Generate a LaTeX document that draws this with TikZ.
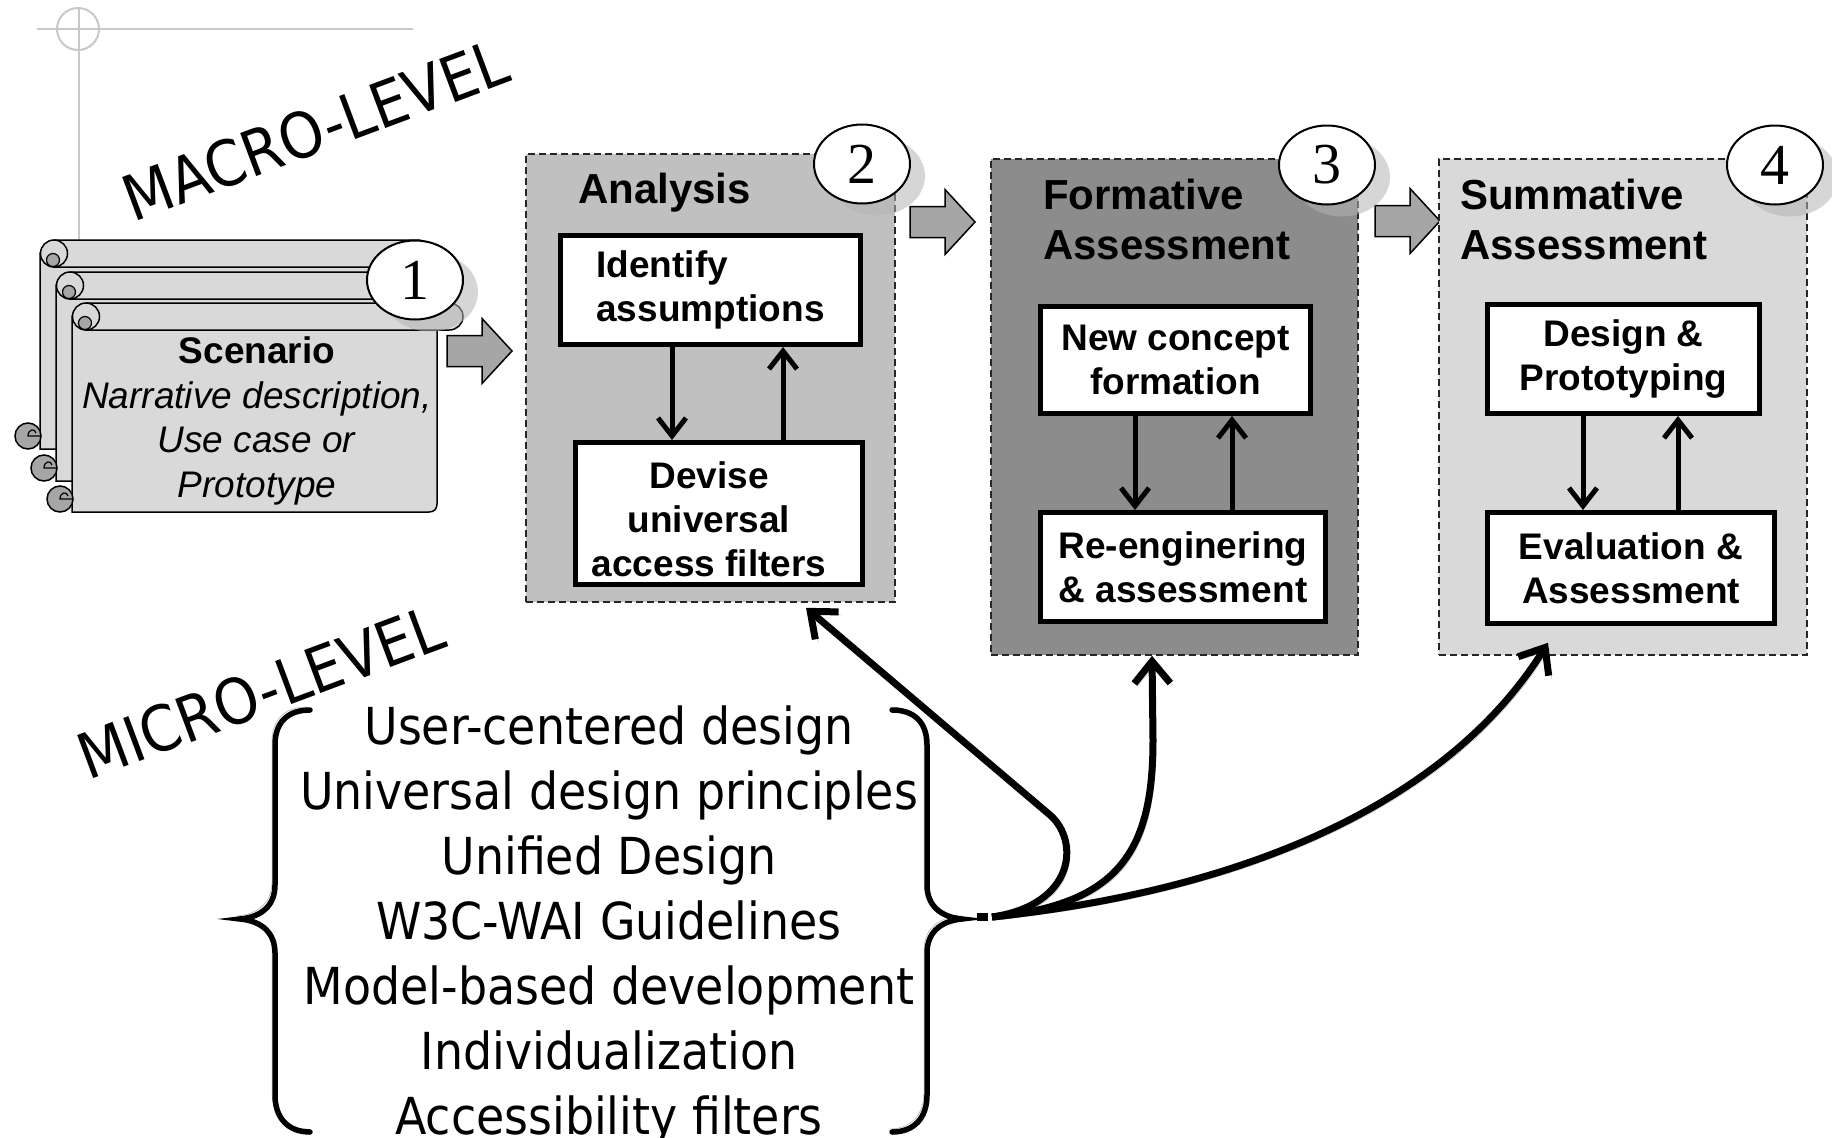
\documentclass[tikz,border=0pt]{standalone}
\usepackage{fontspec}
\setmainfont{Liberation Sans}
\newfontfamily\numfont{Liberation Serif}
\newfontfamily\narrowfont[FakeStretch=0.9]{DejaVu Sans}
\usetikzlibrary{arrows.meta,shapes.geometric,shadows}

\definecolor{scrollfill}{HTML}{D9D9D9}
\definecolor{curlfill}{HTML}{A6A6A6}
\definecolor{blockfill}{HTML}{A6A6A6}
\definecolor{anafill}{HTML}{C0C0C0}
\definecolor{formfill}{HTML}{8C8C8C}
\definecolor{summfill}{HTML}{D9D9D9}
\definecolor{markgray}{HTML}{C8C8C8}
\definecolor{shadowgray}{HTML}{B4B4B4}

\tikzset{
  % one sheet of the scenario scroll, origin at its top-left corner
  scrollsheet/.pic={
    \draw[line width=1.5pt, fill=scrollfill]
      (0,13) -- (0,209) -- (357,209) .. controls (362,209) and (365,206) .. (365,201)
      -- (365,13) -- cycle;
    \draw[line width=1.5pt, fill=curlfill] (-12,196) circle[radius=13];
    \draw[line width=1.2pt] (0,196) -- (-12,196) .. controls (-12,189) and (-5,188) .. (-4,193);
    \draw[line width=1.5pt, fill=scrollfill]
      (14,0) -- (377,0) .. controls (385,0) and (391,6) .. (391,13.5)
      .. controls (391,21) and (385,27) .. (377,27) -- (14,27) -- cycle;
    \draw[line width=1.5pt, fill=scrollfill] (14,13.5) circle[radius=13.5];
    \draw[line width=1.2pt, fill=curlfill] (13,20) circle[radius=6.5];
  },
  % wide grey arrow between stages, origin at the middle of its tail
  blockarrow/.pic={
    \draw[line width=1.5pt, fill=blockfill]
      (0,-15.5) -- (35,-15.5) -- (35,-32.5) -- (65,0) -- (35,32.5) -- (35,15.5) -- (0,15.5) -- cycle;
  },
  phasebox/.style={draw=black!85, line width=1.6pt, dash pattern=on 7pt off 4pt, inner sep=0pt},
  heading/.style={font=\bfseries\fontsize{42}{50}\selectfont, inner sep=0pt, align=left},
  stepbox/.style={draw, line width=5pt, fill=white, inner sep=0pt, align=center,
    font=\bfseries\fontsize{37}{44}\selectfont},
  badge/.style={ellipse, draw, line width=2pt, fill=white, minimum width=96pt,
    minimum height=79pt, inner sep=0pt, font=\numfont\fontsize{58}{58}\selectfont,
    drop shadow={shadow xshift=15pt, shadow yshift=-12pt, fill=shadowgray, opacity=0.55}},
  cyclearrow/.style={line width=5pt, -{Straight Barb[length=18pt,width=28pt]}},
  microlink/.style={line width=7pt, -{Straight Barb[length=22pt,width=36pt]},
    preaction={draw=shadowgray, transform canvas={xshift=3pt,yshift=-3pt}}},
  bracepath/.style={line width=5.5pt, line cap=round,
    preaction={draw=gray!80, transform canvas={xshift=-3pt,yshift=3pt}}},
  tilted/.style={font=\narrowfont\fontsize{63}{63}\selectfont, rotate=20.5,
    anchor=base west, inner sep=0pt},
}

\begin{document}
\begin{tikzpicture}[x=1pt,y=-1pt]
\useasboundingbox (0,0) rectangle (1832,1138);

% registration mark
\draw[markgray, line width=2pt] (37,29) -- (413,29);
\draw[markgray, line width=2pt] (79,8) -- (79,245);
\draw[markgray, line width=2pt] (78,29) circle[radius=21];

% scenario scroll stack
\pic at (40,240) {scrollsheet};
\pic at (56,272) {scrollsheet};
\pic at (72,303) {scrollsheet};
\node[align=center, font=\fontsize{37}{44.5}\selectfont, inner sep=0pt] (scen) at (257,421)
  {\textbf{Scenario}\\\textit{Narrative description,}\\\textit{Use case or}\\\textit{Prototype}};
\node[badge] (n1) at (415,280) {1};

\node[tilted] (macro) at (133,223) {MACRO-LEVEL};

% stage-to-stage arrows
\pic at (447,351) {blockarrow};
\pic at (910,222) {blockarrow};
\pic at (1375,221) {blockarrow};

% stage frames
\node[phasebox, fill=anafill, minimum width=369pt, minimum height=448pt] (analysis) at (710.5,378) {};
\node[phasebox, fill=formfill, minimum width=367pt, minimum height=496pt] (formative) at (1174.5,407) {};
\node[phasebox, fill=summfill, minimum width=368pt, minimum height=496pt] (summative) at (1623,407) {};

\node[heading, anchor=base west] (anaT) at (578,203) {Analysis};
\node[heading, anchor=north west] (formT) at (1043,178.5) {Formative\\Assessment};
\node[heading, anchor=north west] (summT) at (1460,178.5) {Summative\\Assessment};

% activities inside the stages
\node[stepbox, align=left, minimum width=300pt, minimum height=109pt] (ident) at (710.5,290) {Identify\\assumptions};
\node[stepbox, minimum width=287pt, minimum height=142pt,
  label={[inner sep=0pt, align=center, yshift=-6pt, xshift=-10pt, font=\bfseries\fontsize{37}{44}\selectfont]center:Devise\\universal\\access filters}]
  (devise) at (719,513.5) {};
\node[stepbox, minimum width=270pt, minimum height=107pt] (newc) at (1175.5,360) {New concept\\formation};
\node[stepbox, minimum width=285pt, minimum height=109pt] (reeng) at (1183,567) {Re-enginering\\\& assessment};
\node[stepbox, minimum width=272pt, minimum height=109pt] (design) at (1623.5,359) {Design \&\\Prototyping};
\node[stepbox, minimum width=287pt, minimum height=111pt] (evalu) at (1631,568) {Evaluation \&\\Assessment};

\draw[cyclearrow] (ident.south -| 672,0) -- (devise.north -| 672,0);
\draw[cyclearrow] (devise.north -| 783,0) -- (ident.south -| 783,0);
\draw[cyclearrow] (newc.south -| 1135,0) -- (reeng.north -| 1135,0);
\draw[cyclearrow] (reeng.north -| 1232,0) -- (newc.south -| 1232,0);
\draw[cyclearrow] (design.south -| 1583,0) -- (evalu.north -| 1583,0);
\draw[cyclearrow] (evalu.north -| 1678,0) -- (design.south -| 1678,0);

\node[badge] (n2) at (862,164) {2};
\node[badge] (n3) at (1327,165) {3};
\node[badge] (n4) at (1775,165) {4};

% micro level list in braces
\node[tilted] (microlbl) at (88,781) {MICRO-LEVEL};
\node[font=\narrowfont\fontsize{51}{65}\selectfont, align=center, anchor=north, inner sep=0pt]
  (micro) at (609,706) {User-centered design\\Universal design principles\\Unified Design\\W3C-WAI Guidelines\\Model-based development\\Individualization\\Accessibility filters};

\draw[bracepath] (310,710) .. controls (288,710) and (275,722) .. (275,745) -- (275,885)
  .. controls (275,905) and (262,917) .. (240,919) .. controls (262,921) and (275,933) .. (275,953)
  -- (275,1095) .. controls (275,1118) and (288,1132) .. (310,1132);
\draw[bracepath] (892,710) .. controls (914,710) and (927,722) .. (927,745) -- (927,885)
  .. controls (927,905) and (940,917) .. (962,919) .. controls (940,921) and (927,933) .. (927,953)
  -- (927,1095) .. controls (927,1118) and (914,1132) .. (892,1132);

% links from the micro level to the stages
\coordinate (src) at (992,917);
\draw[line width=8pt] (977,917) -- (988,917);
\draw[microlink] (src) .. controls (1075,905) and (1080,841) .. (1050,815)
  -- ([xshift=95.5pt,yshift=-5pt]analysis.south);
\draw[microlink] (src) .. controls (1120,905) and (1153,850) .. (1153,740)
  -- ([xshift=-22.5pt]formative.south);
\draw[microlink] (src) .. controls (1250,890) and (1450,800) .. ([xshift=-75pt,yshift=13pt]summative.south);
\end{tikzpicture}
\end{document}
